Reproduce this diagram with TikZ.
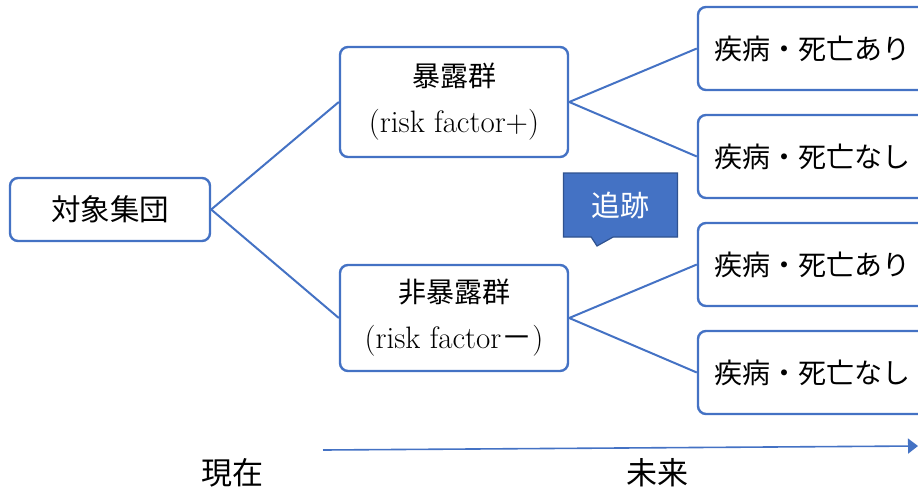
\documentclass[tikz,border=0pt]{standalone}
\usepackage{fontspec}
\newfontfamily\cjk{Noto Sans CJK JP}
\usetikzlibrary{arrows.meta,shapes.callouts}
\definecolor{obl}{HTML}{4472C4}
\definecolor{obd}{HTML}{2F528F}
\begin{document}
\begin{tikzpicture}[x=1pt,y=-1pt,
  box/.style={draw=obl, line width=2.4pt, rounded corners=8pt, fill=white, inner sep=0pt, align=center, font=\fontsize{28}{45}\selectfont},
  conn/.style={draw=obl, line width=2pt},
  lbl/.style={font=\fontsize{31}{32}\selectfont\cjk}]
\useasboundingbox (0,0) rectangle (918,493);
\node[box, minimum width=200pt, minimum height=63pt] (root) at (110,209.5) {{\fontsize{29.5}{32}\selectfont\cjk 対象集団}};
\node[box, minimum width=228pt, minimum height=110pt] (exp) at (454,102) {{\cjk 暴露群}\\[1pt]{\fontsize{31}{45}\selectfont (risk factor+)}};
\node[box, minimum width=228pt, minimum height=106pt] (nexp) at (454,318) {{\cjk 非暴露群}\\[1pt]{\fontsize{31}{45}\selectfont (risk factor{\cjk －})}};
\node[box, minimum width=228pt, minimum height=83pt] (o1) at (812,48.5) {\cjk 疾病・死亡あり};
\node[box, minimum width=228pt, minimum height=83pt] (o2) at (812,156.5) {\cjk 疾病・死亡なし};
\node[box, minimum width=228pt, minimum height=83pt] (o3) at (812,264.5) {\cjk 疾病・死亡あり};
\node[box, minimum width=228pt, minimum height=83pt] (o4) at (812,372.5) {\cjk 疾病・死亡なし};
\draw[conn] (root.east) -- (exp.west);
\draw[conn] (root.east) -- (nexp.west);
\draw[conn] (exp.east) -- (o1.west);
\draw[conn] (exp.east) -- (o2.west);
\draw[conn] (nexp.east) -- (o3.west);
\draw[conn] (nexp.east) -- (o4.west);
\node[rectangle callout, fill=obl, draw=obd, line width=1.2pt, minimum width=114pt, minimum height=64pt,
  callout absolute pointer={(597,246)}, callout pointer width=22pt, text=white,
  font=\fontsize{29}{30}\selectfont\cjk] (track) at (620.5,205) {追跡};
\coordinate (a0) at (323,450);
\coordinate (a1) at (918,446);
\draw[obl, line width=1.6pt, -{Triangle[length=10pt,width=15pt]}] (a0) -- (a1);
\node[lbl] (now) at (232,473) {現在};
\node[lbl] (fut) at (657,473) {未来};
\end{tikzpicture}
\end{document}
